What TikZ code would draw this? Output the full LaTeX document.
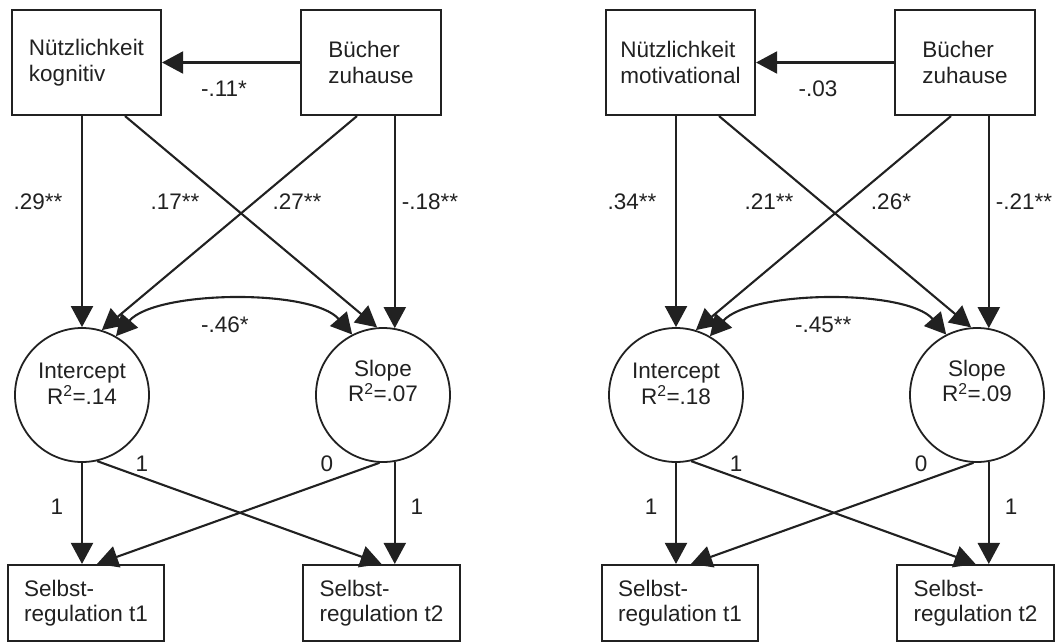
\documentclass[tikz,border=0pt]{standalone}
\usepackage{fontspec}
\setmainfont{Liberation Sans}
\usetikzlibrary{arrows.meta,calc}
\definecolor{ink}{gray}{0.13}

\tikzset{
  every node/.style={font=\fontsize{22.5}{25.5}\selectfont, text=ink},
  var/.style={draw=ink, line width=2.1pt, rectangle, align=left, inner sep=0pt},
  latent/.style={draw=ink, line width=1.8pt, circle, minimum size=134pt, inner sep=0pt},
  latentlabel/.style={align=center, inner sep=0pt},
  path/.style={draw=ink, line width=2.1pt, -{Triangle[length=21pt,width=22pt]}},
  cov/.style={draw=ink, line width=2.1pt,
    {Triangle[length=21pt,width=22pt]}-{Triangle[length=21pt,width=22pt]}},
  coef/.style={inner sep=0pt},
}

% One latent growth model: #1 x offset, #2 name suffix, #3 second line of
% the predictor, #4 predictor regression, #5-#8 paths to intercept/slope,
% #9 intercept-slope covariance. R^2 values come from \rsqI and \rsqS.
\newcommand\growthmodel[9]{%
  \node[var, minimum width=149pt, minimum height=105pt] (nu#2) at (#1+86.5,62.5) {Nützlichkeit\\#3};
  \node[var, minimum width=140pt, minimum height=105pt] (bu#2) at (#1+371,62.5) {Bücher\\zuhause};
  \node[latent] (ic#2) at (#1+82,395) {};
  \node[latent] (sl#2) at (#1+383,395) {};
  \node[latentlabel] at ([yshift=11pt]ic#2.center) {Intercept\\R\textsuperscript{2}=\rsqI};
  \node[latentlabel] at ([yshift=14pt]sl#2.center) {Slope\\R\textsuperscript{2}=\rsqS};
  \node[var, minimum width=156pt, minimum height=76pt] (ta#2) at (#1+86,603) {Selbst-\\regulation t1};
  \node[var, minimum width=157pt, minimum height=76pt] (tb#2) at (#1+381.5,603) {Selbst-\\regulation t2};
  % predictors
  \draw[path] (bu#2.west) -- (nu#2.east);
  \node[coef] at (#1+224,89) {#4};
  \draw[path] (ic#2.north |- nu#2.south) -- (ic#2.north);
  \draw[path] ([xshift=38.5pt]nu#2.south) -- (sl#2.95);
  \draw[path] ([xshift=-14pt]bu#2.south) -- (ic#2.73);
  \draw[path] (sl#2.80 |- bu#2.south) -- (sl#2.80);
  \node[coef] at (#1+38,202) {#5};
  \node[coef] at (#1+175,202) {#6};
  \node[coef] at (#1+297,202) {#7};
  \node[coef] at (#1+430,202) {#8};
  % covariance
  \draw[cov] (ic#2.60) .. controls +(40,-46) and +(-40,-46) .. (sl#2.117);
  \node[coef, anchor=west] at (#1+201,325) {#9};
  % loadings
  \draw[path] (ic#2.south) -- (ic#2.south |- ta#2.north);
  \draw[path] (ic#2.-77) -- (tb#2.north);
  \draw[path] (sl#2.-93) -- ([xshift=11pt]ta#2.north);
  \draw[path] (sl#2.-80) -- (sl#2.-80 |- tb#2.north);
  \node[coef] at (#1+57,507) {1};
  \node[coef] at (#1+142,464) {1};
  \node[coef] at (#1+327,464) {0};
  \node[coef] at (#1+417,507) {1};
}

\begin{document}
\begin{tikzpicture}[x=1pt, y=-1pt]
  \useasboundingbox (0,0) rectangle (1058,643);
  \def\rsqI{.14}\def\rsqS{.07}
  \growthmodel{0}{L}{kognitiv}{-.11*}{.29**}{.17**}{.27**}{-.18**}{-.46*}
  \def\rsqI{.18}\def\rsqS{.09}
  \growthmodel{594}{R}{motivational}{-.03}{.34**}{.21**}{.26*}{-.21**}{-.45**}
\end{tikzpicture}
\end{document}
